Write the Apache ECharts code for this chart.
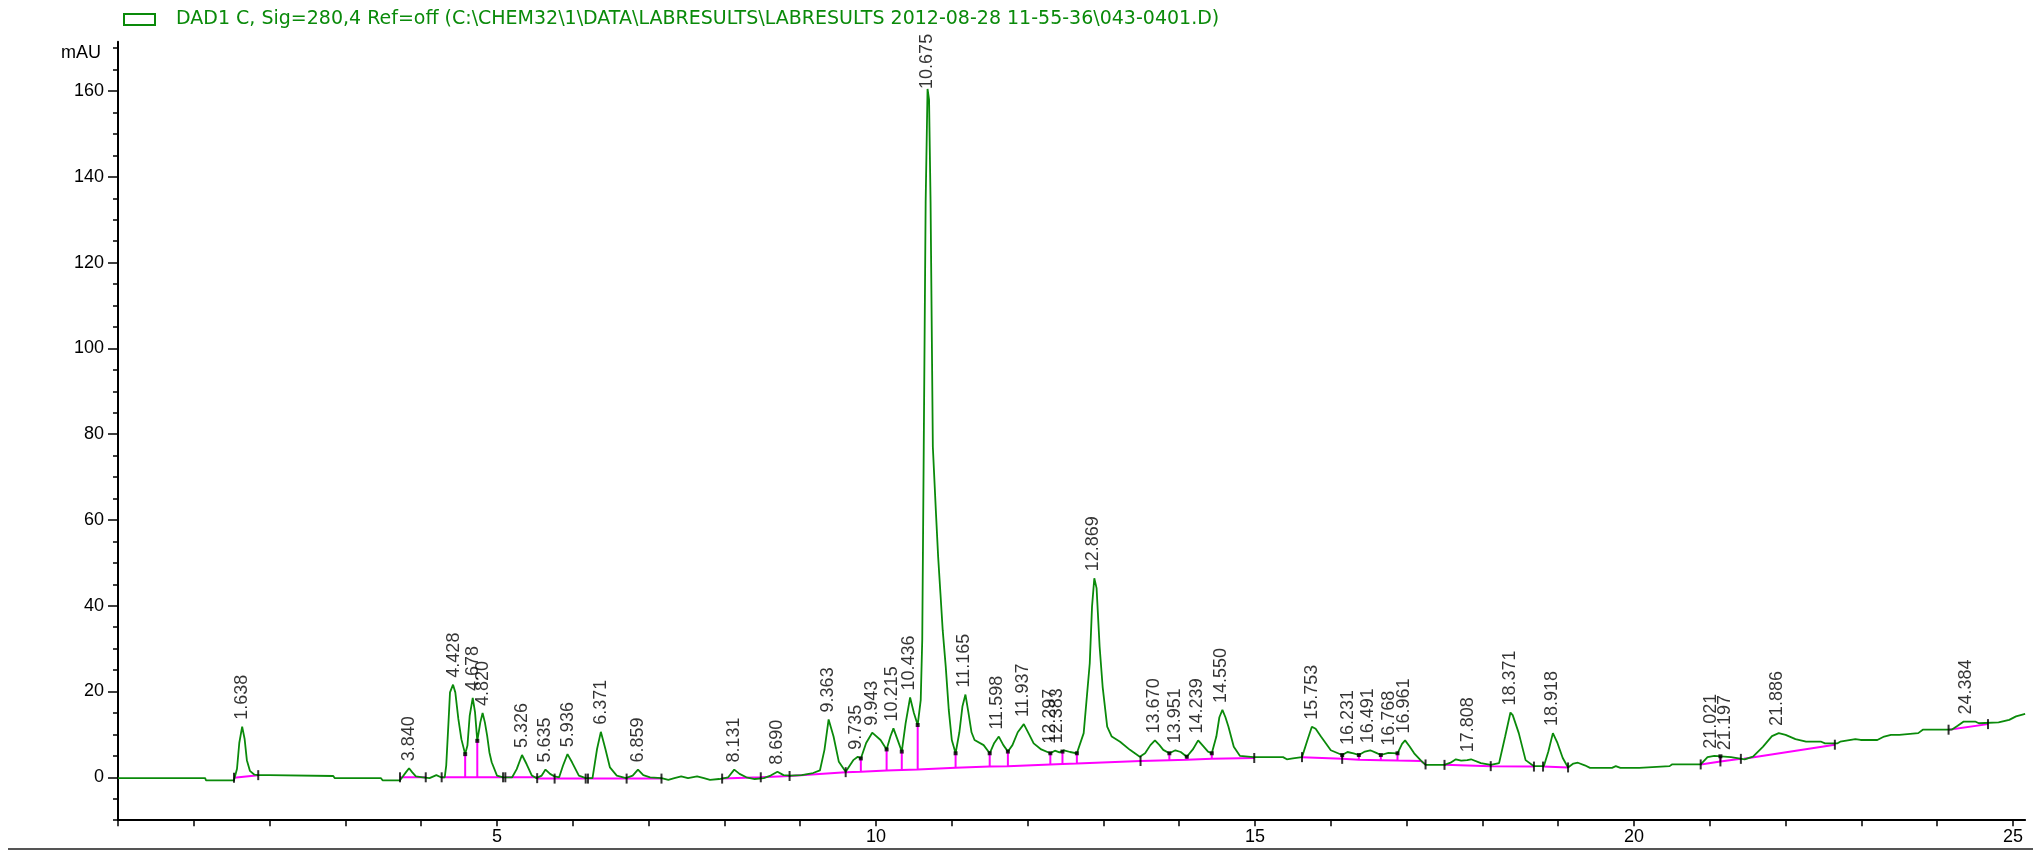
<!DOCTYPE html>
<html>
<head>
<meta charset="utf-8">
<script src="https://cdn.jsdelivr.net/npm/echarts@6/dist/echarts.min.js"></script>
<style>
html,body{margin:0;padding:0;background:#fff;}
#chart{width:2033px;height:853px;}
</style>
</head>
<body>
<div id="chart"></div>
<script>
// ---------- DATA ----------
const seriesName = 'DAD1 C, Sig=280,4 Ref=off (C:\\CHEM32\\1\\DATA\\LABRESULTS\\LABRESULTS 2012-08-28 11-55-36\\043-0401.D)';

// Chromatogram trace: retention time (min) and signal (mAU)
const rt = [0.00,1.15,1.16,1.53,1.57,1.60,1.638,1.67,1.70,1.74,1.80,1.85,2.00,2.02,2.84,2.86,3.47,3.49,3.72,3.75,3.80,3.84,3.88,3.93,4.02,4.11,4.20,4.26,4.31,4.33,4.36,4.38,4.42,4.45,4.49,4.53,4.58,4.61,4.64,4.68,4.71,4.74,4.78,4.81,4.84,4.87,4.90,4.93,5.00,5.08,5.20,5.26,5.33,5.39,5.46,5.52,5.59,5.64,5.70,5.76,5.82,5.87,5.93,5.99,6.08,6.17,6.26,6.32,6.37,6.43,6.49,6.58,6.70,6.79,6.86,6.93,7.02,7.17,7.26,7.34,7.43,7.52,7.64,7.73,7.81,7.93,8.05,8.13,8.20,8.29,8.40,8.52,8.61,8.70,8.78,8.87,9.02,9.17,9.26,9.32,9.375,9.44,9.51,9.60,9.70,9.76,9.80,9.87,9.95,10.06,10.14,10.19,10.23,10.29,10.34,10.39,10.45,10.50,10.55,10.59,10.61,10.63,10.655,10.68,10.70,10.72,10.75,10.79,10.82,10.85,10.88,10.92,10.96,11.00,11.05,11.10,11.14,11.18,11.22,11.26,11.30,11.42,11.50,11.56,11.62,11.68,11.74,11.80,11.87,11.95,12.02,12.08,12.18,12.30,12.36,12.42,12.48,12.56,12.65,12.74,12.82,12.85,12.88,12.91,12.95,12.99,13.05,13.11,13.22,13.35,13.48,13.55,13.62,13.68,13.74,13.79,13.87,13.95,14.02,14.10,14.18,14.25,14.32,14.38,14.43,14.49,14.53,14.57,14.61,14.65,14.72,14.80,14.98,15.37,15.42,15.50,15.62,15.69,15.75,15.80,15.87,16.00,16.15,16.22,16.30,16.37,16.45,16.52,16.60,16.66,16.76,16.88,16.94,16.98,17.04,17.10,17.19,17.25,17.50,17.58,17.65,17.72,17.80,17.85,17.98,18.11,18.22,18.30,18.37,18.40,18.48,18.57,18.68,18.81,18.87,18.93,18.99,19.06,19.13,19.20,19.26,19.35,19.42,19.71,19.76,19.82,20.07,20.09,20.47,20.50,20.88,20.97,21.06,21.28,21.46,21.57,21.70,21.82,21.91,22.00,22.13,22.27,22.47,22.52,22.68,22.72,22.92,22.99,23.21,23.30,23.39,23.50,23.75,23.81,24.19,24.27,24.35,24.50,24.55,24.81,24.95,25.04,25.16];
const mau = [-0.2,-0.2,-0.7,-0.7,2.0,8.0,11.8,9.0,4.0,1.5,0.6,0.5,0.5,0.3,0.3,-0.2,-0.2,-0.7,-0.7,0.0,1.2,2.1,1.2,0.2,0.0,-0.2,0.5,0.0,0.0,2.7,12.8,19.8,21.6,19.8,13.6,8.9,5.4,7.4,14.4,18.5,15.2,8.5,12.8,15.0,12.8,9.7,5.8,3.5,0.4,0.0,0.0,1.9,5.2,3.1,0.4,-0.2,0.4,1.8,0.8,0.2,0.0,2.7,5.4,3.5,0.4,-0.2,-0.2,6.6,10.6,6.6,2.3,0.4,-0.2,0.4,1.8,0.5,0.0,-0.2,-0.6,-0.2,0.2,-0.2,0.2,-0.2,-0.6,-0.4,0.0,1.8,0.8,0.0,-0.4,-0.2,0.4,1.3,0.5,0.4,0.5,1.0,1.6,6.4,13.5,9.5,3.6,1.3,4.0,4.8,4.4,8.0,10.4,8.7,6.5,9.5,11.4,8.5,6.0,12.5,18.6,15.0,12.2,18.0,32.0,77.0,134.0,160.5,158.0,134.0,77.0,62.0,51.4,42.9,34.3,25.8,15.7,8.7,5.6,10.5,16.5,19.3,15.0,10.5,8.7,7.5,5.6,8.0,9.5,7.5,6.0,7.5,10.5,12.4,10.0,7.9,6.5,5.6,6.2,5.8,6.3,5.9,5.6,10.3,26.6,39.8,46.4,44.1,30.5,21.1,11.8,9.5,8.3,6.4,4.8,5.6,7.5,8.6,7.5,6.4,5.6,6.3,5.9,4.8,6.5,8.6,7.2,6.0,5.6,9.5,14.0,15.7,14.0,11.8,7.1,5.0,4.7,4.7,4.2,4.4,4.7,8.6,11.8,11.3,9.5,6.3,5.2,5.9,5.6,5.2,6.0,6.3,5.7,5.2,5.7,5.6,7.8,8.6,7.2,5.6,3.9,2.9,2.9,3.4,4.2,3.9,4.0,4.2,3.3,2.9,3.3,9.5,15.1,14.5,10.3,4.0,2.6,2.6,6.0,10.3,8.0,4.5,2.3,3.2,3.4,2.8,2.2,2.2,2.6,2.2,2.2,2.6,2.6,3.0,3.0,4.7,5.0,4.7,4.2,4.8,7.1,9.6,10.3,9.9,8.9,8.3,8.3,7.9,7.9,8.3,8.9,8.7,8.7,9.5,9.9,9.9,10.3,11.1,11.1,12.0,13.0,13.0,12.6,12.8,13.4,14.2,14.8];

// Integration baselines (null separates segments)
const baseT = [1.53,1.85,null,3.72,4.06,null,4.27,5.08,null,5.11,5.53,null,5.53,6.17,null,6.20,7.17,null,7.97,8.48,null,8.48,8.86,null,8.86,9.60,null,9.60,9.80,10.14,10.34,10.55,11.05,11.50,11.74,12.30,12.46,12.65,13.49,null,13.49,13.87,14.10,14.43,14.99,null,15.62,16.15,16.37,16.66,16.88,17.19,17.25,null,17.50,18.11,null,18.11,18.68,null,18.80,19.13,null,20.88,21.14,21.41,null,21.45,22.65,null,24.15,24.67];
const baseV = [-0.1,0.5,null,0.0,0.0,null,0.0,0.0,null,0.0,0.0,null,-0.3,-0.3,null,-0.3,-0.3,null,-0.3,0.0,null,0.0,0.3,null,0.3,1.2,null,1.2,1.3,1.6,1.7,1.8,2.2,2.5,2.6,3.0,3.1,3.2,3.8,null,3.8,4.0,4.1,4.3,4.5,null,4.7,4.3,4.1,4.0,3.9,3.8,3.0,null,2.9,2.6,null,2.6,2.5,null,2.5,2.3,null,3.0,3.7,4.3,null,4.3,7.6,null,11.1,12.4];

// Drop lines from baseline to valley
const dropT    = [4.58,4.74,9.80,10.14,10.34,10.55,11.05,11.50,11.74,12.30,12.46,12.65,13.87,14.10,14.43,16.15,16.37,16.66,16.88,21.14];
const dropBase = [0.0,0.0,1.3,1.6,1.7,1.8,2.2,2.5,2.6,3.0,3.1,3.2,4.0,4.1,4.3,4.3,4.1,4.0,3.9,3.7];
const dropTop  = [5.4,8.5,4.4,6.5,6.0,12.2,5.6,5.6,6.0,5.6,6.0,5.6,5.6,4.8,5.6,5.2,5.2,5.2,5.6,4.9];

// Integration event tick marks
const tickT = [1.53,1.85,3.72,4.06,4.27,5.08,5.11,5.53,5.76,6.17,6.20,6.71,7.17,7.97,8.48,8.86,9.60,13.49,14.99,15.62,16.15,17.25,17.50,18.11,18.68,18.80,19.13,20.88,21.14,21.41,22.65,24.15,24.67];
const tickV = [-0.1,0.5,0.0,0.0,0.0,0.0,0.0,-0.2,-0.3,-0.3,-0.3,-0.3,-0.3,-0.3,0.0,0.3,1.2,3.8,4.5,4.7,4.3,3.0,2.9,2.6,2.5,2.5,2.3,3.0,3.7,4.3,7.6,11.1,12.4];

// Peak labels: retention time and apex height
const peakRT   = ['1.638','3.840','4.428','4.678','4.820','5.326','5.635','5.936','6.371','6.859','8.131','8.690','9.363','9.735','9.943','10.215','10.436','10.675','11.165','11.598','11.937','12.297','12.383','12.869','13.670','13.951','14.239','14.550','15.753','16.231','16.491','16.768','16.961','17.808','18.371','18.918','21.021','21.197','21.886','24.384'];
const peakApex = [11.8,2.1,21.6,18.5,15.0,5.2,1.8,5.4,10.6,1.8,1.8,1.3,13.5,4.8,10.4,11.4,18.6,160.5,19.3,9.5,12.4,6.2,6.3,46.4,8.6,6.3,8.6,15.7,11.8,5.9,6.3,5.7,8.6,4.2,15.1,10.3,5.0,4.7,10.3,13.0];

// Axis tick settings
const xMax = 25.16, xTickMax = 25, xTickStep = 1, xLabelStep = 5;
const yMin = -10, yMax = 171.5, yMinorMax = 170, yMinorStep = 5, yMajorMax = 160, yMajorStep = 20;

// ---------- LAYOUT ----------
const LEFT = 118, PX_MIN = 75.8, Y0 = 777.3, PX_MAU = 4.289;
function gridFor(xm, lo, hi) {
  return {left: LEFT, width: xm * PX_MIN, top: Y0 - hi * PX_MAU, height: (hi - lo) * PX_MAU, containLabel: false};
}
const FONT = 'Liberation Sans';
const GREEN = '#0a8a0a', MAG = '#ff00ff';

const trace = rt.map((t, i) => [t, mau[i]]);
const base = baseT.map((t, i) => t === null ? [null, null] : [t, baseV[i]]);
const drops = [];
dropT.forEach((t, i) => { drops.push([t, dropBase[i]], [t, dropTop[i]], [null, null]); });
const ticks = tickT.map((t, i) => [t, tickV[i]]);
const dots = dropT.map((t, i) => [t, dropTop[i]]);
const maxApex = Math.max.apply(null, peakApex);
const peaks = peakRT.map((s, i) => {
  const d = {name: s, value: [parseFloat(s), peakApex[i]]};
  if (peakApex[i] === maxApex) d.label = {distance: 0};
  return d;
});

const hiddenX = (gi, m) => ({gridIndex: gi, type: 'value', min: 0, max: m, show: false});
const hiddenY = (gi, lo, hi) => ({gridIndex: gi, type: 'value', min: lo, max: hi, show: false});

const option = {
  animation: false,
  backgroundColor: '#fff',
  grid: [
    gridFor(xMax, yMin, yMax),
    gridFor(xMax, yMin, yMinorMax),
    gridFor(xMax, 0, yMajorMax),
    gridFor(xTickMax, yMin, yMax)
  ],
  legend: {
    left: 123, top: 10, padding: 0,
    itemWidth: 31, itemHeight: 11,
    data: [{name: seriesName, icon: 'rect', itemStyle: {color: '#fff', borderColor: GREEN, borderWidth: 2}}],
    textStyle: {color: GREEN, fontSize: 19, fontFamily: 'DejaVu Sans', padding: [0, 0, 0, 16]},
    selectedMode: false
  },
  xAxis: [
    {gridIndex: 0, type: 'value', min: 0, max: xMax,
     axisLine: {show: true, onZero: false, lineStyle: {color: '#000', width: 2}},
     axisTick: {show: false}, axisLabel: {show: false}, splitLine: {show: false}},
    hiddenX(1, xMax),
    hiddenX(2, xMax),
    {gridIndex: 3, type: 'value', min: 0, max: xTickMax, interval: xTickStep,
     axisLine: {show: false, onZero: false},
     axisTick: {show: true, length: 6, lineStyle: {color: '#000', width: 1.5}},
     axisLabel: {show: true, margin: 8, color: '#000', fontSize: 18, fontFamily: FONT,
       formatter: v => (v > 0 && v % xLabelStep === 0) ? String(v) : ''},
     splitLine: {show: false}}
  ],
  yAxis: [
    {gridIndex: 0, type: 'value', min: yMin, max: yMax,
     axisLine: {show: true, onZero: false, lineStyle: {color: '#000', width: 2}},
     axisTick: {show: false}, axisLabel: {show: false}, splitLine: {show: false},
     name: 'mAU', nameLocation: 'end', nameGap: -11,
     nameTextStyle: {color: '#000', fontSize: 18, fontFamily: FONT, align: 'right', verticalAlign: 'middle', padding: [0, 17, 0, 0]}},
    {gridIndex: 1, type: 'value', min: yMin, max: yMinorMax, interval: yMinorStep,
     axisLine: {show: false, onZero: false},
     axisTick: {show: true, length: 5, lineStyle: {color: '#000', width: 1.5}},
     axisLabel: {show: false}, splitLine: {show: false}},
    {gridIndex: 2, type: 'value', min: 0, max: yMajorMax, interval: yMajorStep,
     axisLine: {show: false, onZero: false},
     axisTick: {show: true, length: 10, lineStyle: {color: '#000', width: 1.5}},
     axisLabel: {show: true, margin: 14, color: '#000', fontSize: 18, fontFamily: FONT},
     splitLine: {show: false}},
    hiddenY(3, yMin, yMax)
  ],
  series: [
    {name: seriesName, type: 'line', xAxisIndex: 0, yAxisIndex: 0, data: trace,
     symbol: 'none', lineStyle: {color: GREEN, width: 1.8}, itemStyle: {color: GREEN}, z: 3},
    {name: 'baseline', type: 'line', data: base, symbol: 'none', connectNulls: false,
     lineStyle: {color: MAG, width: 2}, z: 2},
    {name: 'drops', type: 'line', data: drops, symbol: 'none', connectNulls: false,
     lineStyle: {color: MAG, width: 2}, z: 2},
    {name: 'events', type: 'scatter', data: ticks, symbol: 'rect', symbolSize: [2, 10],
     itemStyle: {color: '#000'}, z: 4},
    {name: 'valleys', type: 'scatter', data: dots, symbol: 'rect', symbolSize: 4,
     itemStyle: {color: '#000'}, z: 4},
    {name: 'peaks', type: 'scatter', data: peaks, symbolSize: 0, z: 5,
     label: {show: true, position: 'top', distance: 7, rotate: 90, align: 'left', verticalAlign: 'middle',
       formatter: p => p.name, color: '#000', fontSize: 18, fontFamily: FONT}}
  ],
  graphic: [
    {type: 'line', shape: {x1: 8, y1: 849, x2: 2033, y2: 849}, style: {stroke: '#555', lineWidth: 2}, silent: true}
  ]
};

const chart = echarts.init(document.getElementById('chart'), null, {renderer: 'canvas'});
chart.setOption(option);
</script>
</body>
</html>
